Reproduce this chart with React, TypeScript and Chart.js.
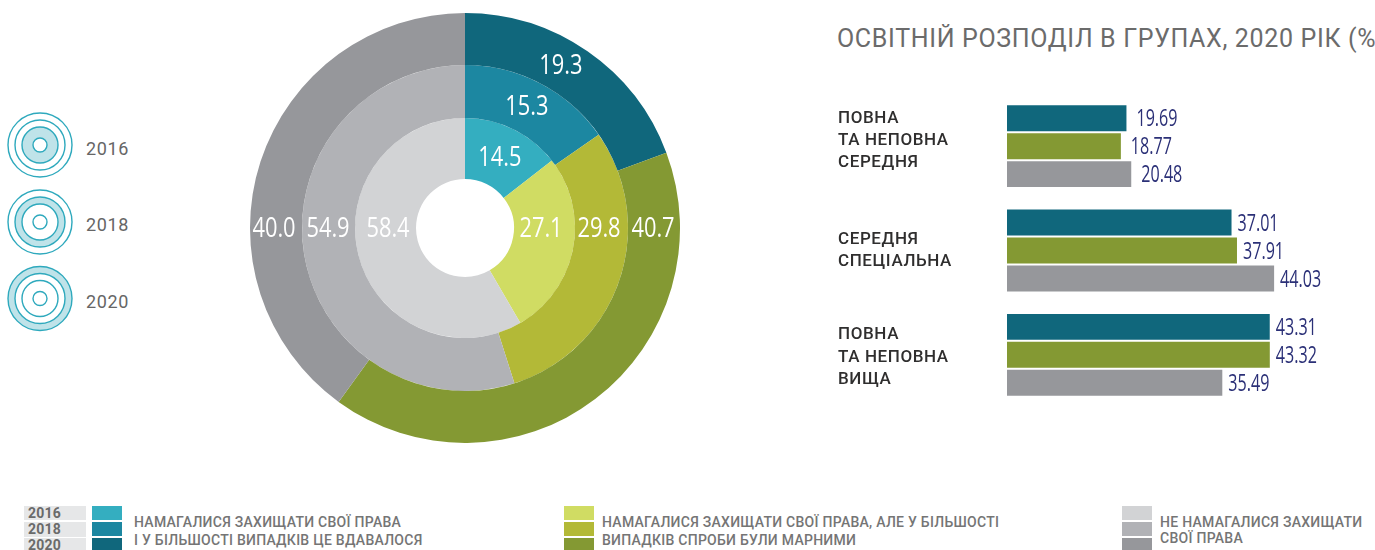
import React, { useEffect, useRef } from "react";
import { Chart, registerables } from "chart.js";

Chart.register(...registerables);

const outcomes = ["Вдавалося", "Спроби марні", "Не намагалися"];
const years = ["2016", "2018", "2020"];
const ring2016 = [14.5, 27.1, 58.4];
const ring2018 = [15.3, 29.8, 54.9];
const ring2020 = [19.3, 40.7, 40.0];
const colors2016 = ["#34aec0", "#d0dc63", "#d2d3d5"];
const colors2018 = ["#1c87a1", "#b3b937", "#b1b2b6"];
const colors2020 = ["#10677c", "#849933", "#96979b"];

const eduCategories = [
  ["ПОВНА", "ТА НЕПОВНА", "СЕРЕДНЯ"],
  ["СЕРЕДНЯ", "СПЕЦІАЛЬНА"],
  ["ПОВНА", "ТА НЕПОВНА", "ВИЩА"],
];
const eduA = [19.69, 37.01, 43.31];
const eduB = [18.77, 37.91, 43.32];
const eduC = [20.48, 44.03, 35.49];
const eduColors = ["#10677c", "#849933", "#96979b"];

const title = "ОСВІТНІЙ РОЗПОДІЛ В ГРУПАХ, 2020 РІК (%)";
const legendGroups = [
  { lines: ["НАМАГАЛИСЯ ЗАХИЩАТИ СВОЇ ПРАВА", "І У БІЛЬШОСТІ ВИПАДКІВ ЦЕ ВДАВАЛОСЯ"], swatches: [colors2016[0], colors2018[0], colors2020[0]], x: 92, textX: 134, pitch: 18 },
  { lines: ["НАМАГАЛИСЯ ЗАХИЩАТИ СВОЇ ПРАВА, АЛЕ У БІЛЬШОСТІ", "ВИПАДКІВ СПРОБИ БУЛИ МАРНИМИ"], swatches: [colors2016[1], colors2018[1], colors2020[1]], x: 564, textX: 602, pitch: 18 },
  { lines: ["НЕ НАМАГАЛИСЯ ЗАХИЩАТИ", "СВОЇ ПРАВА"], swatches: [colors2016[2], colors2018[2], colors2020[2]], x: 1122, textX: 1160, pitch: 16 },
];

const NARROW = "'Open Sans', sans-serif";
const DIN = "Roboto, sans-serif";

function narrowText(ctx: CanvasRenderingContext2D, text: string, x: number, y: number, align: "left" | "center", size: number, squeeze: number, color: string) {
  ctx.save();
  (ctx as any).letterSpacing = "0px";
  ctx.translate(x, y);
  ctx.scale(squeeze, 1);
  ctx.font = `${size}px ${NARROW}`;
  ctx.fillStyle = color;
  ctx.textAlign = align;
  ctx.textBaseline = "middle";
  ctx.fillText(text, 0, 0);
  ctx.restore();
}

const ringLabelAngles = [30.5, 27, 26];
const ringNudgeRight = [-1, -2.5, -3.5];
const ringNudgeLeft = [-2, -0.5, 2.5];
const valueGaps = [10, 6, 6];
const categoryLabelShifts = [-5.5, 0.5, 2.5];

const ringLabels = {
  id: "ringLabels",
  afterDatasetsDraw(chart: any) {
    const ctx = chart.ctx;
    chart.data.datasets.forEach((ds: any, di: number) => {
      const meta = chart.getDatasetMeta(di);
      meta.data.forEach((arc: any, i: number) => {
        const mid = (arc.innerRadius + arc.outerRadius) / 2;
        let x: number, y: number;
        if (i === 0) {
          const a = (ringLabelAngles[di] * Math.PI) / 180;
          x = arc.x + mid * Math.sin(a);
          y = arc.y - mid * Math.cos(a);
        } else {
          x = arc.x + (i === 1 ? mid + ringNudgeRight[di] : -mid + ringNudgeLeft[di]);
          y = arc.y;
        }
        narrowText(ctx, ds.data[i].toFixed(1), x, y + 1, "center", 28, 0.78, "#ffffff");
      });
    });
  },
};

const barLabels = {
  id: "barLabels",
  afterDatasetsDraw(chart: any) {
    const ctx = chart.ctx;
    chart.data.datasets.forEach((ds: any, di: number) => {
      chart.getDatasetMeta(di).data.forEach((bar: any, i: number) => {
        narrowText(ctx, ds.data[i].toFixed(2), bar.x + valueGaps[i], bar.y + 1.5, "left", 23, 0.7, "#2b3077");
      });
    });
  },
};

const shiftCategoryLabels = {
  id: "shiftCategoryLabels",
  beforeDraw(chart: any) {
    (chart.ctx as any).letterSpacing = "0.6px";
    const items = chart.scales.y.getLabelItems();
    items.forEach((item: any, i: number) => {
      if (!item.__shifted) {
        item.__shifted = true;
        const [tx, ty] = item.options.translation;
        item.options = { ...item.options, translation: [tx, ty + categoryLabelShifts[i]] };
      }
    });
  },
};

function Target({ cx, cy, hi }: { cx: number; cy: number; hi: number }) {
  const radii: [number, number][] = [[25, 32], [18, 25], [7, 18]];
  return (
    <>
      <circle cx={cx} cy={cy} r={radii[hi][1] - (radii[hi][1] - radii[hi][0]) / 2} fill="none" stroke="#bfe3e9" strokeWidth={radii[hi][1] - radii[hi][0]} />
      {[32, 25, 18, 7].map((r) => (
        <circle key={r} cx={cx} cy={cy} r={r} fill="none" stroke="#2ea9bd" strokeWidth={1.4} />
      ))}
    </>
  );
}

const abs = (left: number, top: number, extra: React.CSSProperties = {}): React.CSSProperties => ({
  position: "absolute",
  left,
  top,
  whiteSpace: "nowrap",
  ...extra,
});

export default function App() {
  const pieRef = useRef<HTMLCanvasElement>(null);
  const barRef = useRef<HTMLCanvasElement>(null);

  useEffect(() => {
    document.body.style.margin = "0";
    const pie = new Chart(pieRef.current!, {
      type: "doughnut",
      data: {
        labels: outcomes,
        datasets: [
          { label: years[2], data: ring2020, backgroundColor: colors2020, borderWidth: 0, weight: 52 },
          { label: years[1], data: ring2018, backgroundColor: colors2018, borderWidth: 0, weight: 53 },
          { label: years[0], data: ring2016, backgroundColor: colors2016, borderWidth: 0, weight: 61 },
        ],
      },
      options: {
        responsive: false,
        animation: false,
        cutout: 49,
        plugins: { legend: { display: false }, tooltip: { enabled: false } },
      } as any,
      plugins: [ringLabels],
    });
    const bar = new Chart(barRef.current!, {
      type: "bar",
      data: {
        labels: eduCategories as any,
        datasets: [
          { data: eduA, backgroundColor: eduColors[0] },
          { data: eduB, backgroundColor: eduColors[1] },
          { data: eduC, backgroundColor: eduColors[2] },
        ],
      },
      options: {
        indexAxis: "y",
        responsive: false,
        animation: false,
        layout: { padding: 0 },
        scales: {
          x: { display: false, min: 0, max: 60 },
          y: {
            grid: { display: false },
            border: { display: false },
            afterFit(s: any) {
              s.width = 169;
              s.paddingTop = 0;
              s.paddingBottom = 0;
            },
            ticks: {
              crossAlign: "far",
              padding: 0,
              color: "#2f2e2e",
              font: { family: DIN, size: 17, lineHeight: 1.3, weight: "500" },
            },
          },
        },
        datasets: { bar: { barPercentage: 26 / 28, categoryPercentage: 0.804 } },
        plugins: { legend: { display: false }, tooltip: { enabled: false } },
      } as any,
      plugins: [barLabels, shiftCategoryLabels],
    });
    return () => {
      pie.destroy();
      bar.destroy();
    };
  }, []);

  return (
    <div style={{ position: "relative", width: 1375, height: 550, overflow: "hidden", background: "#fff", fontFamily: DIN }}>
      <svg width={100} height={350} style={{ position: "absolute", left: 0, top: 0 }}>
        <Target cx={40} cy={145} hi={2} />
        <Target cx={40} cy={222} hi={1} />
        <Target cx={40} cy={298.5} hi={0} />
      </svg>
      {years.map((y, i) => (
        <div key={y} style={abs(86, [138, 214, 291][i], { fontSize: 18, lineHeight: "22px", color: "#666", letterSpacing: 0.6 })}>{y}</div>
      ))}
      <canvas ref={pieRef} width={430} height={430} style={{ position: "absolute", left: 250, top: 13 }} />
      <canvas ref={barRef} width={533} height={313} style={{ position: "absolute", left: 838, top: 94 }} />
      <div style={abs(837, 25, { fontSize: 25, lineHeight: "28px", color: "#6b6b6b", letterSpacing: 0.66 })}>{title}</div>
      {years.map((y, i) => (
        <div key={y} style={abs(24, [506, 522, 538][i], { width: 62, height: [14, 15, 15][i], background: "#e6e7e8", color: "#6a6a6a", fontSize: 14, fontWeight: 700, lineHeight: "15px", paddingLeft: 4, boxSizing: "border-box", letterSpacing: 0.2 })}>{y}</div>
      ))}
      {legendGroups.map((g) => (
        <React.Fragment key={g.x}>
          {g.swatches.map((c, i) => (
            <div key={c} style={abs(g.x, [506, 522, 538][i], { width: 30, height: [14, 14, 12][i], background: c })} />
          ))}
          {g.lines.map((l, i) => (
            <div key={l} style={abs(g.textX, 513 + i * g.pitch, { fontSize: 14, lineHeight: "18px", color: "#757575", fontWeight: 500, letterSpacing: 0.27 })}>{l}</div>
          ))}
        </React.Fragment>
      ))}
    </div>
  );
}
